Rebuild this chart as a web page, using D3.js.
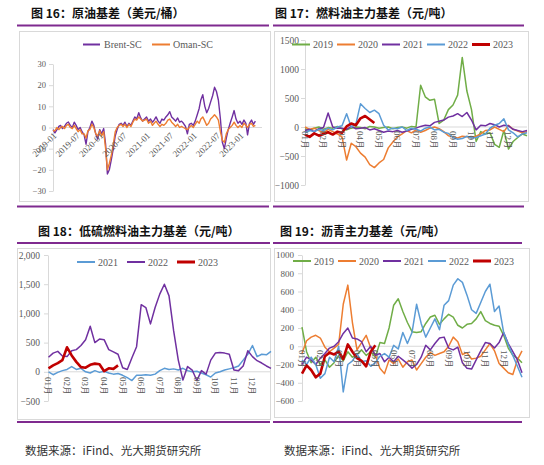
<!DOCTYPE html>
<html><head><meta charset="utf-8">
<script src="https://cdn.jsdelivr.net/npm/d3@7"></script>
<style>body{margin:0;background:#fff} .sf{font-family:"Liberation Serif","Times New Roman","DejaVu Serif",serif}</style>
</head><body>
<script>
// ---------- DATA ----------
// Fig 16 crude basis (USD/bbl), semi-monthly from 2019-01
const p1Dates = d3.range(105).map(i => new Date(2019, Math.floor(i / 2), i % 2 ? 16 : 1));
const p1TickDates = ["2019-01","2019-07","2020-01","2020-07","2021-01","2021-07","2022-01","2022-07","2023-01"];
const p1Ticks = [-30,-20,-10,0,10,20,30];
const brentSC = [-1,-2.5,-1,0.5,1,-0.5,0.5,2,2.6,1,0,2.5,1,-1,0,-2,-3.5,-7.9,-2,0,3,1,-3,-5.5,
  -1,-3,-0.5,-8,-22,-20,-15,-10,-4,-1,1.5,2,1,2.5,0.5,2,1,3,5,4,7,4.5,3,4,
  5,3,4,2.5,3.5,5,3,2,4,3.5,5,6,7.5,5,4,3,4.5,2.5,3,2,0.5,-3,1.5,2,
  1,3,6,9,13,15.5,10,7,9,12,15,19,17,13,4,-7,-10,-5,-1,2,5,8,4,2,
  3,1.5,3.5,2,-3.5,2,3.5,1.5,3];
const omanSC = [-1.5,-1.5,0,-1,0,0.5,-0.5,1,1.5,0,-0.5,1,-0.5,-2,-1,-3,-3,-5,-1.5,-1,1.5,0,-3,-4,
  -1.5,-4,-2,-10,-20,-17,-13,-8,-2,0,1,1.5,0.5,1.5,0,1.5,0.5,2.5,4,3.5,5,4,3,3.5,
  4,2,3,1,2,3,1.5,0.5,1.5,1,2,3.5,4,2.5,1.5,0.5,1.5,0,0.5,0,-0.5,-1,0,1,
  0,1.5,3,2,4,5,3,1,2,4,5,6,5,3.5,-2,-6,-7,-3,-1,0,1,2.5,1,0,
  1,0,2,1,0,1.5,2,0.5,1];

// month category labels (quarter-month sampling for seasonal panels)
const monthLabels = ["01月","02月","03月","04月","05月","06月","07月","08月","09月","10月","11月","12月"];

// Fig 17 fuel oil main basis (CNY/t)
const p2Ticks = [-1000,-500,0,500,1000,1500];
const fo2019 = [-30,-60,-20,0,-40,-10,-20,10,-30,-50,-20,0,-10,-30,10,0,-20,-10,0,-30,-10,0,-20,10,
  0,720,520,460,480,60,120,300,380,550,1200,620,300,-250,-80,-120,-100,-300,-350,-60,-380,-250,-180,-120,-150];
const fo2020 = [0,-40,-20,-60,-100,-40,-80,-120,-170,-570,-280,-340,-450,-520,-650,-700,-620,-560,-360,-260,-170,-120,-60,-100,
  -50,-90,-60,-20,0,-30,-80,-150,-170,-190,-160,-170,-180,-160,-120,-60,-50,0,-40,-80,30,-40,-70,-100,-80];
const fo2021 = [-60,-40,-80,-30,-10,240,0,-20,-20,-40,10,-30,-20,-10,-50,-30,-60,-90,-70,-80,-60,-90,-70,-40,
  -20,10,30,20,80,100,120,170,190,230,180,250,120,-50,30,20,60,40,0,30,20,-40,-60,-80,-60];
const fo2022 = [-100,-60,-80,-40,-60,-20,-50,0,20,230,0,50,400,320,250,290,230,30,-50,-20,-30,0,-60,-20,
  -40,-70,-20,0,-50,-40,-90,-110,-180,-210,-200,-160,-190,-180,-150,-120,-20,30,60,140,-50,-100,-170,-120,-100];
const fo2023 = [-130,-170,-110,-150,-120,-90,-130,-80,-100,10,60,30,150,190,130,70];

// Fig 18 low-sulphur fuel oil main basis (CNY/t)
const p3Ticks = [-500,0,500,1000,1500,2000];
const ls2021 = [0,-50,-10,20,40,90,40,60,0,-20,20,-10,10,-20,-40,-30,-60,-100,-150,-60,-60,-50,-60,-40,
  20,60,40,50,30,60,20,0,10,-20,-50,-90,-20,0,30,50,70,100,200,300,450,260,300,290,350];
const ls2022 = [250,320,350,270,260,360,380,450,550,780,500,560,550,380,340,300,70,40,240,430,1150,1100,820,1100,
  1330,1500,1300,700,200,-140,90,30,-150,20,-40,200,320,330,320,300,30,20,100,360,260,190,150,100,60];
const ls2023 = [60,110,150,200,420,280,170,80,70,120,140,130,10,60,50,110];

// Fig 19 bitumen main basis (CNY/t)
const p4Ticks = [-600,-400,-200,0,200,400,600,800,1000];
const as2019 = [210,-60,-180,-120,-200,-150,-230,-180,-100,-160,-60,-120,-90,-40,-100,-60,-120,40,30,200,450,520,380,260,
  160,150,160,250,320,340,240,300,350,320,230,200,240,250,300,380,280,250,230,220,120,-20,-100,-130,-180];
const as2020 = [-80,60,100,120,90,-10,-60,-20,20,460,670,260,-40,40,120,-20,-100,-240,-300,-150,-190,-140,-230,-170,
  -150,-260,-190,-120,-70,-100,-80,-60,0,100,50,-90,-70,-140,-130,-110,-40,30,-50,-190,-240,-290,-310,-150,-50];
const as2021 = [-200,-120,-150,-200,-130,-80,-20,0,50,140,200,90,80,50,-60,0,-100,-80,-170,-120,-170,-110,-150,-190,
  -240,-200,-120,10,-40,30,90,100,-20,-40,-10,-180,-240,-250,-150,-50,40,30,-20,40,150,30,-60,-150,-290];
const as2022 = [-150,-200,-120,-200,-350,-300,-120,-170,0,-500,-200,-160,-80,-170,-160,-220,-180,-110,-80,-120,10,-30,150,30,
  150,460,250,100,200,300,180,450,500,670,740,700,560,400,360,480,600,680,380,440,150,20,-100,-220,-340];
const as2023 = [-300,-210,-260,-340,-300,-110,-70,-90,-60,-140,20,-60,-130,-160,-220,-60,10];

// ---------- STYLE ----------
const C = {green:"#70ad47", orange:"#ed7d31", purple:"#7030a0", blue:"#5b9bd5", red:"#c00000"};
const cjk = "'Noto Sans CJK SC',sans-serif";
const grid = "#d9d9d9", lab = "#595959", band = "#7f2a8f";

const svg = d3.select("body").append("svg").attr("width", 544).attr("height", 465);

function hline(x1, x2, y, col, w) {
  svg.append("line").attr("x1", x1).attr("x2", x2).attr("y1", y).attr("y2", y)
    .attr("stroke", col).attr("stroke-width", w);
}
function frame(x, y, w, h) {
  svg.append("rect").attr("x", x).attr("y", y).attr("width", w).attr("height", h)
    .attr("fill", "none").attr("stroke", grid).attr("stroke-width", 1);
}
function title(x, y, t) {
  svg.append("text").attr("x", x).attr("y", y).text(t)
    .style("font-family", cjk).style("font-weight", "bold").style("font-size", "12px").attr("fill", "#111");
}
function yAxis(scale, x, ticks, fmt, pad, fs) {
  const a = svg.append("g").attr("transform", `translate(${x},0)`)
    .call(d3.axisLeft(scale).tickValues(ticks).tickSize(4).tickSizeOuter(0).tickPadding(pad).tickFormat(fmt));
  a.attr("font-family", null);
  a.select(".domain").attr("stroke", grid);
  a.selectAll(".tick line").attr("stroke", grid);
  a.selectAll("text").attr("class", "sf").attr("fill", lab).style("font-size", fs + "px");
}
function series(vals, xs, ys, color, w) {
  svg.append("path").datum(vals)
    .attr("d", d3.line().x((d, i) => xs(i / 4)).y(d => ys(d)))
    .attr("fill", "none").attr("stroke", color).attr("stroke-width", w).attr("stroke-linejoin", "round");
}
function legend(items, x0, step, y, lineLen) {
  items.forEach((it, i) => {
    const x = x0 + i * step;
    svg.append("line").attr("x1", x).attr("x2", x + lineLen).attr("y1", y).attr("y2", y)
      .attr("stroke", it[1]).attr("stroke-width", it[2]);
    svg.append("text").attr("class", "sf").attr("x", x + lineLen + 3).attr("y", y + 3.5).text(it[0])
      .attr("fill", lab).style("font-size", "10px");
  });
}
function monthAxis(xs, y) {
  monthLabels.forEach((m, i) => {
    svg.append("text").attr("class", "sf").attr("transform", `translate(${xs(i)},${y}) rotate(90)`)
      .attr("dy", "0.35em").text(m).attr("fill", lab).style("font-size", "9px");
  });
}

// ---------- separators & frames ----------
hline(17, 269, 25.5, band, 2); hline(273, 524, 25.5, band, 2);
hline(17, 269, 206.5, band, 2); hline(273, 524, 206.5, band, 2);
hline(17, 270, 243, band, 2); hline(273, 522, 243, band, 2);
hline(17, 270, 422, band, 2); hline(273, 522, 422, band, 2);
frame(19.5, 31.5, 251, 170);
frame(274.5, 31.5, 254, 170);
frame(17.5, 248.5, 253, 171);
frame(274.5, 248.5, 255, 169);

// ---------- Panel 1 ----------
title(31, 18, "图 16：原油基差（美元/桶）");
const x1 = d3.scaleTime().domain([new Date(2019, 0, 1), new Date(2023, 0, 1)]).range([53, 240]);
const y1 = d3.scaleLinear().domain([-30, 30]).range([191, 64]);
hline(53, 262, y1(0), grid, 1);
yAxis(y1, 53, p1Ticks, d3.format("d"), 3, 8.5);
const l1 = d3.line().x((d, i) => x1(p1Dates[i])).y(d => y1(d));
svg.append("path").datum(brentSC).attr("d", l1).attr("fill", "none").attr("stroke", C.purple).attr("stroke-width", 1.4).attr("stroke-linejoin", "round");
svg.append("path").datum(omanSC).attr("d", l1).attr("fill", "none").attr("stroke", C.orange).attr("stroke-width", 1.4).attr("stroke-linejoin", "round");
const parse = d3.timeParse("%Y-%m");
p1TickDates.forEach(s => {
  svg.append("text").attr("class", "sf").attr("transform", `translate(${x1(parse(s)) + 2},${134}) rotate(-45)`)
    .attr("text-anchor", "end").attr("dy", "0.35em").text(s).attr("fill", lab).style("font-size", "9px");
});
svg.append("line").attr("x1", 83).attr("x2", 100).attr("y1", 44.5).attr("y2", 44.5).attr("stroke", C.purple).attr("stroke-width", 2);
svg.append("text").attr("class", "sf").attr("x", 104).attr("y", 48).text("Brent-SC").attr("fill", lab).style("font-size", "10px");
svg.append("line").attr("x1", 152).attr("x2", 170).attr("y1", 44.5).attr("y2", 44.5).attr("stroke", C.orange).attr("stroke-width", 2);
svg.append("text").attr("class", "sf").attr("x", 173).attr("y", 48).text("Oman-SC").attr("fill", lab).style("font-size", "10px");

// ---------- Panel 2 ----------
title(275, 18, "图 17：燃料油主力基差（元/吨）");
const x2 = d3.scaleLinear().domain([0, 12]).range([305, 527]);
const y2 = d3.scaleLinear().domain([-1000, 1500]).range([185, 40]);
hline(305, 527, y2(0), grid, 1);
yAxis(y2, 305, p2Ticks, d3.format("d"), 2, 9.5);
series(fo2019, x2, y2, C.green, 1.5);
series(fo2020, x2, y2, C.orange, 1.5);
series(fo2021, x2, y2, C.purple, 1.5);
series(fo2022, x2, y2, C.blue, 1.5);
series(fo2023, x2, y2, C.red, 2.6);
monthAxis(x2, 131);
legend([["2019", C.green, 2], ["2020", C.orange, 2], ["2021", C.purple, 2], ["2022", C.blue, 2], ["2023", C.red, 3]], 292, 45, 44.5, 18);

// ---------- Panel 3 ----------
title(38, 236, "图 18：低硫燃料油主力基差（元/吨）");
const x3 = d3.scaleLinear().domain([0, 12]).range([48.5, 271]);
const y3 = d3.scaleLinear().domain([-500, 2000]).range([401, 255]);
hline(48, 271, y3(0), grid, 1);
yAxis(y3, 48, p3Ticks, d3.format(","), 4, 9.5);
series(ls2021, x3, y3, C.blue, 1.5);
series(ls2022, x3, y3, C.purple, 1.5);
series(ls2023, x3, y3, C.red, 2.6);
monthAxis(x3, 377);
legend([["2021", C.blue, 2], ["2022", C.purple, 2], ["2023", C.red, 3]], 77, 50, 262, 18);

// ---------- Panel 4 ----------
title(280, 236, "图 19：沥青主力基差（元/吨）");
const x4 = d3.scaleLinear().domain([0, 12]).range([302, 522]);
const y4 = d3.scaleLinear().domain([-600, 1000]).range([401, 255]);
hline(302, 522, y4(0), grid, 1);
yAxis(y4, 302, p4Ticks, d3.format("d"), 4, 9);
series(as2019, x4, y4, C.green, 1.5);
series(as2020, x4, y4, C.orange, 1.5);
series(as2021, x4, y4, C.purple, 1.5);
series(as2022, x4, y4, C.blue, 1.5);
series(as2023, x4, y4, C.red, 2.6);
monthAxis(x4, 350);
legend([["2019", C.green, 2], ["2020", C.orange, 2], ["2021", C.purple, 2], ["2022", C.blue, 2], ["2023", C.red, 3]], 293, 45, 261, 18);

// ---------- footers ----------
[[25, 455], [284, 455]].forEach(p => {
  svg.append("text").attr("x", p[0]).attr("y", p[1]).text("数据来源：iFind、光大期货研究所")
    .attr("fill", "#333").style("font-family", cjk).style("font-size", "11.5px");
});
</script>
</body></html>
